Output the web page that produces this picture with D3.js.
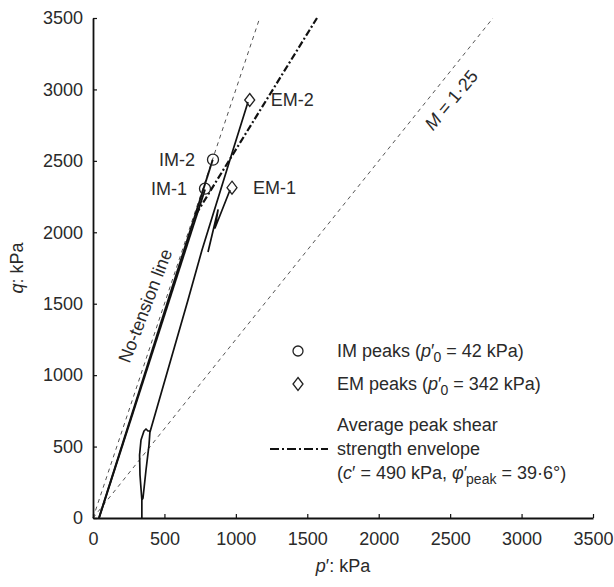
<!DOCTYPE html>
<html>
<head>
<meta charset="utf-8">
<script src="https://cdn.jsdelivr.net/npm/d3@7"></script>
<style>
	body { margin: 0; background: #fff; }
	text { font-family: 'Liberation Sans', Arial, sans-serif; fill: #2a2a2a; }
</style>
</head>
<body>
<div id="chart"></div>
<script>
const xTicks = [0, 500, 1000, 1500, 2000, 2500, 3000, 3500];
const yTicks = [0, 500, 1000, 1500, 2000, 2500, 3000, 3500];

// reference lines (p', q in kPa)
const noTensionLine = [[0, 0], [1167, 3500]];
const criticalLine = [[0, 0], [2800, 3500]];
const envelope = [[720, 2125], [1568, 3500]];

// stress paths
const im1Path = [[42, 0], [784, 2300]];
const im2Path = [[42, 0], [838, 2508]];
const emLoop = [[342, 0], [342, 126], [329, 301], [326, 441], [336, 546], [357, 609], [371, 623], [385, 609], [399, 609], [392, 511], [371, 336], [350, 140], [342, 126]];
const em2Path = [[399, 602], [665, 1526], [763, 1876], [980, 2576], [1085, 2912]];
const em1Path = [[805, 1862], [875, 2156], [854, 2030], [959, 2296]];

// peaks
const imPeaks = [
	{ 'label': 'IM-1', 'p': 784, 'q': 2305 },
	{ 'label': 'IM-2', 'p': 840, 'q': 2508 }
];
const emPeaks = [
	{ 'label': 'EM-1', 'p': 973, 'q': 2312 },
	{ 'label': 'EM-2', 'p': 1097, 'q': 2926 }
];

const width = 614,
	height = 587;

const x = d3.scaleLinear().domain([0, 3500]).range([93, 593]);
const y = d3.scaleLinear().domain([0, 3500]).range([518, 18]);

const svg = d3.select('#chart')
	.append('svg')
	.attr('width', width)
	.attr('height', height);

const line = d3.line()
	.x(function(d) { return x(d[0]); })
	.y(function(d) { return y(d[1]); });

// thin dashed lines
[noTensionLine, criticalLine].forEach(function(d) {
	svg.append('path')
		.attr('d', line(d))
		.attr('fill', 'none')
		.attr('stroke', '#555')
		.attr('stroke-width', 1)
		.attr('stroke-dasharray', '4,4');
});

// stress paths
[im1Path, im2Path].forEach(function(d) {
	svg.append('path')
		.attr('d', line(d))
		.attr('fill', 'none')
		.attr('stroke', '#111')
		.attr('stroke-width', 1.9);
});

[emLoop, em2Path, em1Path].forEach(function(d) {
	svg.append('path')
		.attr('d', line(d))
		.attr('fill', 'none')
		.attr('stroke', '#111')
		.attr('stroke-width', 1.7)
		.attr('stroke-linejoin', 'round');
});

// peak envelope
svg.append('path')
	.attr('d', line(envelope))
	.attr('fill', 'none')
	.attr('stroke', '#111')
	.attr('stroke-width', 2.2)
	.attr('stroke-dasharray', '7,2.5,2,2.5');

const diamond = {
	draw: function(ctx, size) {
		const w = 5, h = 6.5;
		ctx.moveTo(0, -h);
		ctx.lineTo(w, 0);
		ctx.lineTo(0, h);
		ctx.lineTo(-w, 0);
		ctx.closePath();
	}
};

svg.selectAll('.im-peak')
	.data(imPeaks)
	.enter().append('circle')
	.attr('class', 'im-peak')
	.attr('cx', function(d) { return x(d.p); })
	.attr('cy', function(d) { return y(d.q); })
	.attr('r', 5.5)
	.attr('fill', 'none')
	.attr('stroke', '#222')
	.attr('stroke-width', 1.3);

svg.selectAll('.em-peak')
	.data(emPeaks)
	.enter().append('path')
	.attr('class', 'em-peak')
	.attr('transform', function(d) { return 'translate(' + x(d.p) + ',' + y(d.q) + ')'; })
	.attr('d', d3.symbol().type(diamond))
	.attr('fill', 'none')
	.attr('stroke', '#222')
	.attr('stroke-width', 1.3);

svg.selectAll('.im-label')
	.data(imPeaks)
	.enter().append('text')
	.attr('x', function(d) { return x(d.p) - 18; })
	.attr('y', function(d) { return y(d.q); })
	.attr('dy', '0.35em')
	.attr('text-anchor', 'end')
	.style('font-size', '18px')
	.text(function(d) { return d.label; });

svg.selectAll('.em-label')
	.data(emPeaks)
	.enter().append('text')
	.attr('x', function(d) { return x(d.p) + 21; })
	.attr('y', function(d) { return y(d.q); })
	.attr('dy', '0.35em')
	.style('font-size', '18px')
	.text(function(d) { return d.label; });

// line labels
svg.append('text')
	.attr('transform', 'translate(151,308) rotate(-69)')
	.attr('text-anchor', 'middle')
	.style('font-size', '18px')
	.text('No-tension line');

const mLabel = svg.append('text')
	.attr('transform', 'translate(456,104) rotate(-50)')
	.attr('text-anchor', 'middle')
	.style('font-size', '18px');
mLabel.append('tspan').style('font-style', 'italic').text('M');
mLabel.append('tspan').text(' = 1·25');

// axes
const xAxis = svg.append('g')
	.attr('transform', 'translate(0,' + y(0) + ')')
	.call(d3.axisBottom(x).tickValues(xTicks).tickFormat(d3.format('d')).tickSizeInner(-4).tickSizeOuter(0).tickPadding(14));

const yAxis = svg.append('g')
	.attr('transform', 'translate(' + x(0) + ',0)')
	.call(d3.axisLeft(y).tickValues(yTicks).tickFormat(d3.format('d')).tickSizeInner(-4).tickSizeOuter(0).tickPadding(10));

[xAxis, yAxis].forEach(function(a) {
	a.select('.domain').attr('stroke', '#111').attr('stroke-width', 1.8);
	a.selectAll('.tick line').attr('stroke', '#111').attr('stroke-width', 1.2);
	a.selectAll('.tick text')
		.style('font-size', '18px')
		.style('font-family', "'Liberation Sans', Arial, sans-serif")
		.attr('fill', '#2a2a2a');
});

const xLabel = svg.append('text')
	.attr('x', x(1750))
	.attr('y', 572)
	.attr('text-anchor', 'middle')
	.style('font-size', '18px');
xLabel.append('tspan').style('font-style', 'italic').text('p');
xLabel.append('tspan').text('′: kPa');

const yLabel = svg.append('text')
	.attr('transform', 'translate(23,' + y(1750) + ') rotate(-90)')
	.attr('text-anchor', 'middle')
	.style('font-size', '18px');
yLabel.append('tspan').style('font-style', 'italic').text('q');
yLabel.append('tspan').text(': kPa');

// legend
const legend = svg.append('g');
legend.append('circle')
	.attr('cx', 298)
	.attr('cy', 351)
	.attr('r', 5)
	.attr('fill', 'none')
	.attr('stroke', '#222')
	.attr('stroke-width', 1.3);
legend.append('path')
	.attr('transform', 'translate(298,384)')
	.attr('d', d3.symbol().type(diamond))
	.attr('fill', 'none')
	.attr('stroke', '#222')
	.attr('stroke-width', 1.3);
legend.append('line')
	.attr('x1', 270)
	.attr('x2', 328)
	.attr('y1', 449)
	.attr('y2', 449)
	.attr('stroke', '#111')
	.attr('stroke-width', 2.2)
	.attr('stroke-dasharray', '9,3,2,3');

function subLabel(t, base, sub, rest) {
	t.append('tspan').style('font-style', 'italic').text(base);
	t.append('tspan').text('′');
	t.append('tspan').attr('dx', -1).attr('dy', 5).style('font-size', '14px').text(sub);
	t.append('tspan').attr('dy', -5).text(rest);
}

const t1 = legend.append('text').attr('x', 337).attr('y', 357).style('font-size', '18px');
t1.append('tspan').text('IM peaks (');
subLabel(t1, 'p', '0', ' = 42 kPa)');

const t2 = legend.append('text').attr('x', 337).attr('y', 390).style('font-size', '18px');
t2.append('tspan').text('EM peaks (');
subLabel(t2, 'p', '0', ' = 342 kPa)');

legend.append('text').attr('x', 337).attr('y', 431).style('font-size', '18px').text('Average peak shear');
legend.append('text').attr('x', 337).attr('y', 455).style('font-size', '18px').text('strength envelope');

const t3 = legend.append('text').attr('x', 337).attr('y', 479).style('font-size', '18px');
t3.append('tspan').text('(');
t3.append('tspan').style('font-style', 'italic').text('c');
t3.append('tspan').text('′ = 490 kPa, ');
subLabel(t3, 'φ', 'peak', ' = 39·6°)');
</script>
</body>
</html>
